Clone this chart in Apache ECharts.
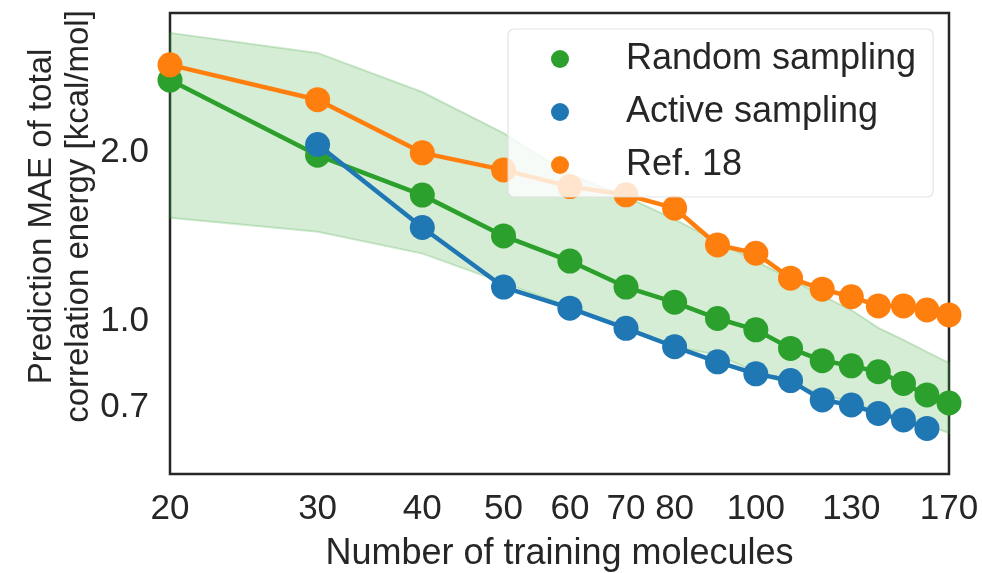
<!DOCTYPE html>
<html>
<head>
<meta charset="utf-8">
<script src="https://cdn.jsdelivr.net/npm/echarts@6/dist/echarts.min.js"></script>
<style>
html,body{margin:0;padding:0;background:#fff;}
#chart{width:982px;height:573px;}
</style>
</head>
<body>
<div id="chart"></div>
<script>
// ---- data ----
const trainingSizes = [20, 30, 40, 50, 60, 70, 80, 90, 100, 110, 120, 130, 140, 150, 160, 170];
const randomMAE   = [2.70, 1.98, 1.68, 1.42, 1.28, 1.15, 1.08, 1.01, 0.964, 0.893, 0.849, 0.831, 0.811, 0.773, 0.737, 0.713];
const randomUpper = [3.28, 3.02, 2.57, 2.17, 1.83, 1.67, 1.52, 1.39, 1.28, 1.19, 1.11, 1.046, 0.972, 0.925, 0.880, 0.841];
const randomLower = [1.53, 1.445, 1.32, 1.17, 1.06, 0.964, 0.899, 0.869, 0.810, 0.768, 0.740, 0.713, 0.690, 0.670, 0.651, 0.630];
const activeSizes = [30, 40, 50, 60, 70, 80, 90, 100, 110, 120, 130, 140, 150, 160];
const activeMAE   = [2.07, 1.47, 1.15, 1.054, 0.970, 0.899, 0.845, 0.804, 0.782, 0.722, 0.707, 0.683, 0.665, 0.642];
const refMAE      = [2.875, 2.49, 2.00, 1.864, 1.74, 1.682, 1.592, 1.368, 1.322, 1.193, 1.14, 1.105, 1.064, 1.064, 1.046, 1.025];
const xTicks = [20, 30, 40, 50, 60, 70, 80, 100, 130, 170];
const yTicks = [0.7, 1.0, 2.0];
const seriesNames = ['Random sampling', 'Active sampling', 'Ref. 18'];

const GREEN = '#2ca02c', BLUE = '#1f77b4', ORANGE = '#ff7f0e', TXT = '#262626';
const FONT = '"Liberation Sans", Arial, sans-serif';

const pairs = (xs, ys) => xs.map((x, i) => [x, ys[i]]);

const chart = echarts.init(document.getElementById('chart'), null, {renderer: 'canvas'});
chart.setOption({
  animation: false,
  backgroundColor: '#fff',
  textStyle: {fontFamily: FONT, color: TXT},
  grid: {left: 170, right: 33, top: 13, bottom: 99, show: true, borderColor: TXT, borderWidth: 2.5,
    backgroundColor: 'transparent', containLabel: false, outerBoundsMode: 'none'},
  legend: {
    data: seriesNames,
    orient: 'vertical',
    left: 508, top: 29,
    icon: 'circle',
    itemWidth: 18, itemHeight: 18,
    itemGap: 13,
    padding: [10, 17, 12, 43],
    backgroundColor: 'rgba(255,255,255,0.8)',
    borderColor: 'rgba(220,220,220,0.8)',
    borderWidth: 1.2,
    borderRadius: 6,
    selectedMode: false,
    textStyle: {fontSize: 36, color: TXT, fontFamily: FONT, lineHeight: 40, padding: [0, 0, 0, 52]},
    z: 10
  },
  xAxis: {
    type: 'log', logBase: 10, min: 20, max: 170,
    name: 'Number of training molecules', nameLocation: 'middle', nameGap: 62, nameMoveOverlap: false,
    nameTextStyle: {fontSize: 36, color: TXT, fontFamily: FONT},
    axisLine: {show: false}, axisTick: {show: false}, splitLine: {show: false}, minorTick: {show: false},
    axisLabel: {customValues: xTicks, fontSize: 35, color: TXT, fontFamily: FONT, margin: 18,
      formatter: v => String(Math.round(v))}
  },
  yAxis: {
    type: 'log', logBase: 10, min: 0.532, max: 3.56,
    name: 'Prediction MAE of total\ncorrelation energy [kcal/mol]', nameLocation: 'middle', nameGap: 73, nameRotate: 90,
    nameMoveOverlap: false,
    nameTextStyle: {fontSize: 33, lineHeight: 37, color: TXT, fontFamily: FONT, align: 'center', padding: [0, 0, 0, 54]},
    axisLine: {show: false}, axisTick: {show: false}, splitLine: {show: false}, minorTick: {show: false},
    axisLabel: {customValues: yTicks, fontSize: 35, color: TXT, fontFamily: FONT, margin: 21,
      formatter: v => Number(v).toFixed(1)}
  },
  series: [
    {
      type: 'custom', name: 'band', coordinateSystem: 'cartesian2d', silent: true, z: 1,
      data: [[trainingSizes[0], randomMAE[0]]],
      renderItem: function (params, api) {
        const pts = [];
        for (let i = 0; i < trainingSizes.length; i++) pts.push(api.coord([trainingSizes[i], randomUpper[i]]));
        for (let i = trainingSizes.length - 1; i >= 0; i--) pts.push(api.coord([trainingSizes[i], randomLower[i]]));
        return {type: 'polygon', shape: {points: pts},
          style: {fill: 'rgba(44,160,44,0.2)', stroke: 'rgba(44,160,44,0.22)', lineWidth: 2}};
      }
    },
    {type: 'line', name: seriesNames[0], data: pairs(trainingSizes, randomMAE), symbol: 'circle', symbolSize: 25,
      lineStyle: {color: GREEN, width: 4.5}, itemStyle: {color: GREEN}, z: 2, emphasis: {disabled: true}},
    {type: 'line', name: seriesNames[1], data: pairs(activeSizes, activeMAE), symbol: 'circle', symbolSize: 25,
      lineStyle: {color: BLUE, width: 4.5}, itemStyle: {color: BLUE}, z: 3, emphasis: {disabled: true}},
    {type: 'line', name: seriesNames[2], data: pairs(trainingSizes, refMAE), symbol: 'circle', symbolSize: 25,
      lineStyle: {color: ORANGE, width: 4.5}, itemStyle: {color: ORANGE}, z: 4, emphasis: {disabled: true}}
  ]
});
</script>
</body>
</html>
